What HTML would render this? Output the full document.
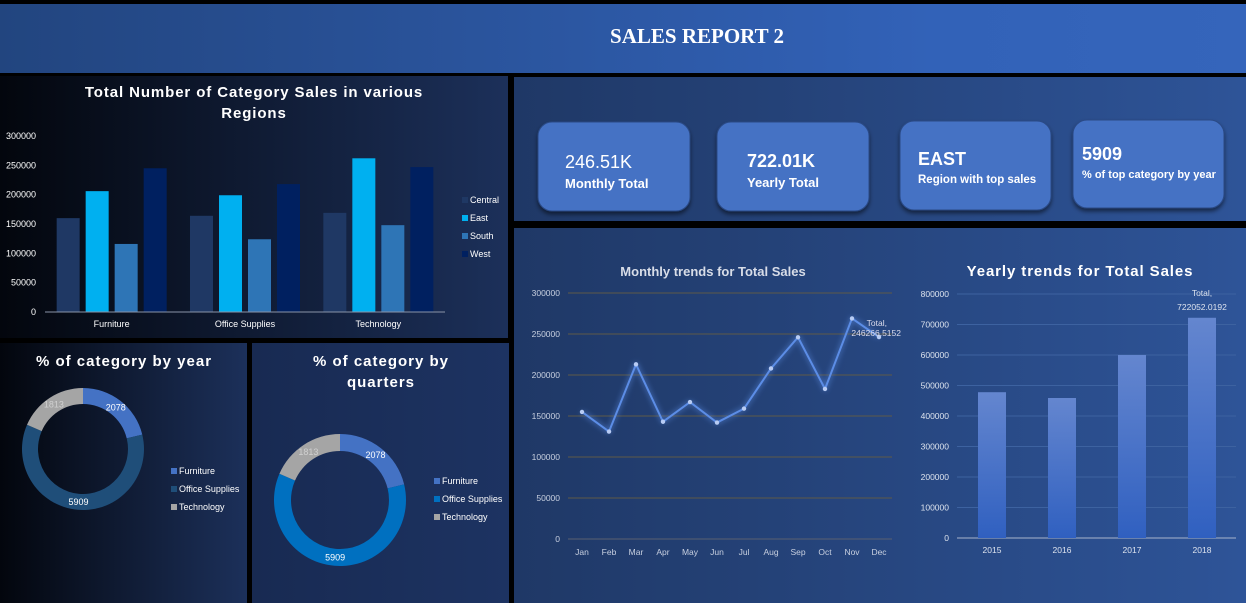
<!DOCTYPE html>
<html><head><meta charset="utf-8">
<style>
body{margin:0;width:1246px;height:603px;background:#000;overflow:hidden;font-family:"Liberation Sans",sans-serif}
svg{display:block}
</style></head>
<body>
<svg id="dash" width="1246" height="603" xmlns="http://www.w3.org/2000/svg">
<defs>
<linearGradient id="hdr" x1="0" x2="1"><stop offset="0" stop-color="#22457f"/><stop offset="0.75" stop-color="#3262b8"/><stop offset="1" stop-color="#3565bb"/></linearGradient>
<linearGradient id="dark" x1="0" x2="1"><stop offset="0" stop-color="#03060d"/><stop offset="1" stop-color="#1c305a"/></linearGradient>
<linearGradient id="mid" x1="0" x2="1"><stop offset="0" stop-color="#182a52"/><stop offset="1" stop-color="#1d3362"/></linearGradient>
<linearGradient id="right" x1="0" x2="1"><stop offset="0" stop-color="#1f3866"/><stop offset="1" stop-color="#2e5498"/></linearGradient>
<linearGradient id="bar" x1="0" y1="0" x2="0" y2="1"><stop offset="0" stop-color="#6486cf"/><stop offset="1" stop-color="#3060c0"/></linearGradient>
<filter id="glow" x="-20%" y="-20%" width="140%" height="140%"><feGaussianBlur stdDeviation="3" result="b"/><feMerge><feMergeNode in="b"/><feMergeNode in="SourceGraphic"/></feMerge></filter>
<filter id="shadow"><feDropShadow dx="0" dy="3" stdDeviation="2" flood-color="#000" flood-opacity="0.5"/></filter>
</defs>
<rect x="0" y="4" width="1246" height="69" fill="url(#hdr)"/>
<text x="697" y="43" text-anchor="middle" fill="#fff" font-family="Liberation Serif" font-weight="bold" font-size="21">SALES REPORT 2</text>
<rect x="0" y="76" width="508" height="262" fill="url(#dark)"/>
<rect x="0" y="343" width="247" height="260" fill="url(#dark)"/>
<rect x="252" y="343" width="257" height="260" fill="url(#mid)"/>
<rect x="514" y="77" width="732" height="144" fill="url(#right)"/>
<rect x="514" y="228" width="732" height="375" fill="url(#right)"/>

<g id="kpis" font-weight="bold" fill="#fff">
<g><rect x="538" y="122" width="152" height="89" rx="14" fill="#4472c4" stroke="#2a4a85" filter="url(#shadow)"/><text x="565" y="168" font-size="18" font-weight="normal" fill="#fff">246.51K</text><text x="565" y="188" font-size="13" fill="#fff">Monthly Total</text></g>
<g><rect x="717" y="122" width="152" height="89" rx="14" fill="#4472c4" stroke="#2a4a85" filter="url(#shadow)"/><text x="747" y="167" font-size="18" fill="#fff">722.01K</text><text x="747" y="187" font-size="13" fill="#fff">Yearly Total</text></g>
<g><rect x="900" y="121" width="151" height="89" rx="14" fill="#4472c4" stroke="#2a4a85" filter="url(#shadow)"/><text x="918" y="165" font-size="18" fill="#fff">EAST</text><text x="918" y="183" font-size="11.5" fill="#fff">Region with top sales</text></g>
<g><rect x="1073" y="120" width="151" height="88" rx="14" fill="#4472c4" stroke="#2a4a85" filter="url(#shadow)"/><text x="1082" y="160" font-size="18" fill="#fff">5909</text><text x="1082" y="178" font-size="11" fill="#fff">% of top category by year</text></g>
</g>

<text x="254" y="97" text-anchor="middle" fill="#fff" font-weight="bold" font-size="15" letter-spacing="0.9">Total Number of Category Sales in various</text>
<text x="254" y="118" text-anchor="middle" fill="#fff" font-weight="bold" font-size="15" letter-spacing="0.9">Regions</text>
<g id="regionChart"></g>

<text x="124" y="366" text-anchor="middle" fill="#fff" font-weight="bold" font-size="15" letter-spacing="1">% of category by year</text>
<text x="381" y="366" text-anchor="middle" fill="#fff" font-weight="bold" font-size="15" letter-spacing="1">% of category by</text>
<text x="381" y="387" text-anchor="middle" fill="#fff" font-weight="bold" font-size="15" letter-spacing="1">quarters</text>
<g id="donuts"></g>

<text x="713" y="276" text-anchor="middle" fill="#d8dde8" font-weight="bold" font-size="13">Monthly trends for Total Sales</text>
<g id="monthly"></g>
<text x="1080" y="276" text-anchor="middle" fill="#fff" font-weight="bold" font-size="15" letter-spacing="0.9">Yearly trends for Total Sales</text>
<g id="yearly"></g>
</svg>
<script>
const NS="http://www.w3.org/2000/svg";
function mk(parent,tag,attrs,txt){const e=document.createElementNS(NS,tag);for(const k in attrs)e.setAttribute(k,attrs[k]);if(txt!==undefined)e.textContent=txt;parent.appendChild(e);return e;}

// ---- Region chart data ----
const regionCategories=["Furniture","Office Supplies","Technology"];
const regionNames=["Central","East","South","West"];
const centralSales=[160000,164000,169000];
const eastSales=[206000,199000,262000];
const southSales=[116000,124000,148000];
const westSales=[245000,218000,247000];
const regionTicks=[0,50000,100000,150000,200000,250000,300000];
// ---- Monthly ----
const months=["Jan","Feb","Mar","Apr","May","Jun","Jul","Aug","Sep","Oct","Nov","Dec"];
const monthlySales=[155000,131000,213000,143000,167000,142000,159000,208000,246000,183000,269000,246266.5152];
const monthlyTicks=[0,50000,100000,150000,200000,250000,300000];
// ---- Yearly ----
const years=["2015","2016","2017","2018"];
const yearlySales=[478000,459000,600000,722052.0192];
const yearlyTicks=[0,100000,200000,300000,400000,500000,600000,700000,800000];
// ---- Donuts ----
const donutCategories=["Furniture","Office Supplies","Technology"];
const donutYearValues=[2078,5909,1813];
const donutQuarterValues=[2078,5909,1813];

// Region chart
(function(){
const g=document.getElementById('regionChart');
const y=v=>312-v/300000*176;
const series=[centralSales,eastSales,southSales,westSales];
const colors=["#1f3864","#00b0f0","#2e75b6","#002060"];
regionTicks.forEach(t=>{const e=mk(g,'text',{x:36,y:y(t)+3,'text-anchor':'end',fill:'#fff','font-size':9},t);

});
const x0=45,w=400,gw=w/regionCategories.length,bw=23,gap=6;
regionCategories.forEach((c,i)=>{const cx=x0+gw*i+gw/2;
 series.forEach((s,j)=>{const bx=cx-(4*bw+3*gap)/2+j*(bw+gap);
  const r=mk(g,'rect',{x:bx,y:y(s[i]),width:bw,height:312-y(s[i]),fill:colors[j]});
  
  });
 const t=mk(g,'text',{x:cx,y:327,'text-anchor':'middle',fill:'#fff','font-size':9},c);
 
 });
const ax=mk(g,'line',{x1:x0,x2:x0+w,y1:312,y2:312,stroke:'#8a94a8'});


regionNames.forEach((n,j)=>{const ly=203+j*18;
 const le=mk(g,'g',{});
 
 
 mk(le,'rect',{x:462,y:ly-6,width:6,height:6,fill:colors[j]});
 mk(le,'text',{x:470,y:ly,fill:'#fff','font-size':9},n);});
})();

// Donuts
function donut(cx,cy,ro,ri,vals,colors,prefix,legendX,legendY){
 const g=document.getElementById('donuts');
 const tot=vals.reduce((a,b)=>a+b,0);let a0=-Math.PI/2;
 vals.forEach((v,i)=>{const a1=a0+v/tot*2*Math.PI;const lg=(a1-a0)>Math.PI?1:0;
  const p=[cx+ro*Math.cos(a0),cy+ro*Math.sin(a0),cx+ro*Math.cos(a1),cy+ro*Math.sin(a1),cx+ri*Math.cos(a1),cy+ri*Math.sin(a1),cx+ri*Math.cos(a0),cy+ri*Math.sin(a0)];
  const d=`M${p[0]},${p[1]}A${ro},${ro} 0 ${lg} 1 ${p[2]},${p[3]}L${p[4]},${p[5]}A${ri},${ri} 0 ${lg} 0 ${p[6]},${p[7]}Z`;
  const s=mk(g,'path',{d:d,fill:colors[i]});
  
  
  const am=(a0+a1)/2,rm=(ro+ri)/2;
  const t=mk(g,'text',{x:cx+rm*Math.cos(am),y:cy+rm*Math.sin(am)+3,'text-anchor':'middle',fill:i==2?'#d0d0d0':'#fff','font-size':9},v);
  
  
  a0=a1;});
 donutCategories.forEach((n,i)=>{const le=mk(g,'g',{});
  
  
  mk(le,'rect',{x:legendX,y:legendY+i*18-6,width:6,height:6,fill:colors[i]});
  mk(le,'text',{x:legendX+8,y:legendY+i*18,fill:'#fff','font-size':9},n);});
}
donut(83,449,61,45,donutYearValues,["#4472c4","#1f4e79","#a5a5a5"],'year-donut',171,474);
donut(340,500,66,49,donutQuarterValues,["#4472c4","#0070c0","#a5a5a5"],'quarter-donut',434,484);

// Monthly
(function(){
const g=document.getElementById('monthly');
const y=v=>539-v/300000*246;const x=i=>582+i*27;
monthlyTicks.forEach(t=>{const l=mk(g,'line',{x1:568,x2:892,y1:y(t),y2:y(t),stroke:t==0?'#5a6070':'#5e5a48'});
 
 
 const e=mk(g,'text',{x:560,y:y(t)+3,'text-anchor':'end',fill:'#c8d0e0','font-size':8.5},t);
 
 });
months.forEach((m,i)=>{const e=mk(g,'text',{x:x(i),y:555,'text-anchor':'middle',fill:'#c8d0e0','font-size':8.5},m);
 
 });
const pts=monthlySales.map((v,i)=>x(i)+','+y(v)).join(' ');
const pl=mk(g,'polyline',{points:pts,fill:'none',stroke:'#5b8de6','stroke-width':2,filter:'url(#glow)'});


monthlySales.forEach((v,i)=>{const c=mk(g,'circle',{cx:x(i),cy:y(v),r:2.2,fill:'#b8ccf4'});
 
 });
const li=monthlySales.length-1;
const l1=mk(g,'text',{x:x(li)+8,y:y(monthlySales[li])-11,'text-anchor':'end',fill:'#dde','font-size':8.5},'Total,');


const l2=mk(g,'text',{x:x(li)+22,y:y(monthlySales[li])-1,'text-anchor':'end',fill:'#dde','font-size':8.5},String(monthlySales[li]));


})();

// Yearly
(function(){
const g=document.getElementById('yearly');
const y=v=>538-v/800000*244;const x=i=>992+i*70;
yearlyTicks.forEach(t=>{const l=mk(g,'line',{x1:957,x2:1236,y1:y(t),y2:y(t),stroke:t==0?'#a8b4cc':'#3d62a0'});
 
 
 const e=mk(g,'text',{x:949,y:y(t)+3,'text-anchor':'end',fill:'#dde3ee','font-size':8.5},t);
 
 });
years.forEach((yr,i)=>{const r=mk(g,'rect',{x:x(i)-14,y:y(yearlySales[i]),width:28,height:538-y(yearlySales[i]),fill:'url(#bar)'});
 
 
 const e=mk(g,'text',{x:x(i),y:553,'text-anchor':'middle',fill:'#dde3ee','font-size':8.5},yr);
 
 });
const li=yearlySales.length-1;
const t1=mk(g,'text',{x:x(li),y:y(yearlySales[li])-22,'text-anchor':'middle',fill:'#dde3ee','font-size':8.5},'Total,');


const t2=mk(g,'text',{x:x(li),y:y(yearlySales[li])-8,'text-anchor':'middle',fill:'#dde3ee','font-size':8.5},String(yearlySales[li]));


})();
</script>
</body></html>
